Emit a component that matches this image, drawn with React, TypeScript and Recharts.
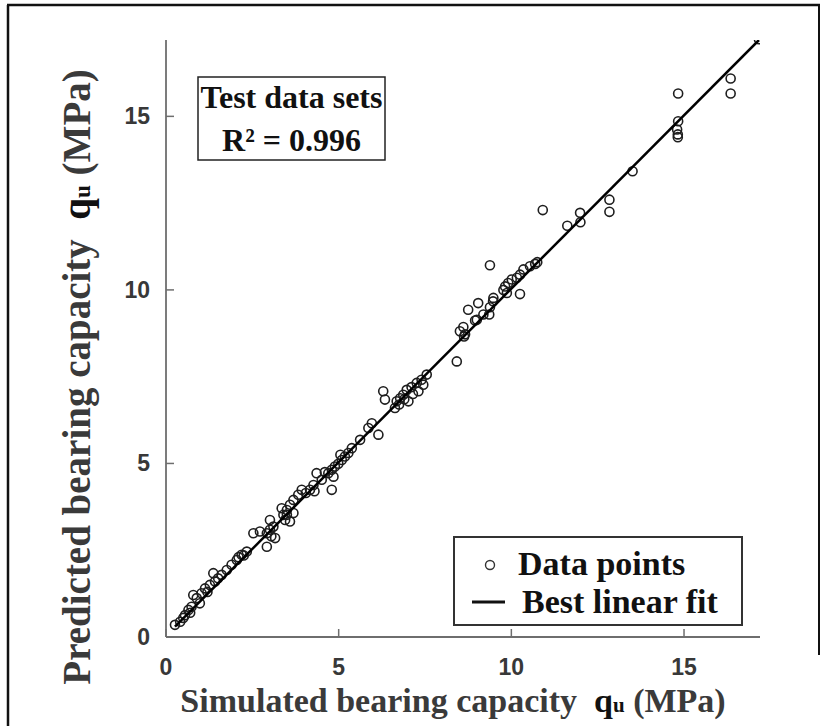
import React from 'react';
import { ScatterChart, Scatter, XAxis, YAxis, ZAxis, Legend } from 'recharts';

const xTicks = [0, 5, 10, 15];
const yTicks = [0, 5, 10, 15];
const axisDomain = [0, 17.2];

const simulated = [
  17.17, 16.35, 16.35, 14.83, 14.83, 14.8, 14.82, 14.82, 13.51, 12.84, 12.84, 11.99, 12.0, 11.62, 10.91,
  10.69, 10.75, 10.54, 10.35, 10.25, 10.16, 10.01, 9.91, 9.82, 9.77, 9.87, 10.25, 9.48, 9.38, 9.04,
  8.75, 9.38, 9.47, 9.36, 9.19, 9.0, 8.95, 8.61, 8.63, 8.51, 8.66, 8.42,
  7.55, 7.4, 7.45, 7.26, 7.11, 7.31, 6.97, 6.87, 7.02, 6.78, 6.68, 6.63, 6.75, 6.9, 7.15, 6.29, 6.34,
  6.15, 5.96, 5.86, 5.62, 5.38, 5.28, 5.18, 5.09, 4.99, 4.89, 4.8, 4.7, 4.85, 4.8, 4.36, 4.51, 4.6, 5.05,
  4.27, 4.17, 3.93, 3.83, 3.69, 3.59, 3.5, 3.4, 3.45, 3.69, 4.05, 4.3,
  3.35, 3.5, 3.59, 3.01, 3.11, 3.01, 2.72, 2.92, 2.53, 3.16, 2.92, 3.05, 2.34, 2.19, 2.05, 1.9, 1.76,
  1.61, 1.37, 1.51, 1.42, 1.27, 1.13, 1.03, 0.79, 0.89, 0.98, 0.74, 0.65, 0.55, 0.41, 0.26, 0.5, 0.7,
  1.2, 2.1, 2.25,
];
const predicted = [
  17.22, 16.09, 15.66, 15.66, 14.86, 14.62, 14.48, 14.4, 13.42, 12.6, 12.25, 12.22, 11.95, 11.85, 12.3,
  10.75, 10.8, 10.68, 10.59, 10.44, 10.35, 10.3, 10.2, 10.1, 10.0, 9.91, 9.88, 9.77, 10.71, 9.62,
  9.43, 9.5, 9.67, 9.29, 9.29, 9.14, 9.12, 8.93, 8.66, 8.81, 8.72, 7.94,
  7.56, 7.41, 7.27, 7.32, 7.2, 7.08, 7.12, 6.98, 6.79, 6.88, 6.79, 6.6, 6.7, 6.85, 7.0, 7.08, 6.84,
  5.83, 6.16, 6.02, 5.68, 5.44, 5.3, 5.2, 5.1, 4.99, 4.91, 4.82, 4.72, 4.62, 4.24, 4.72, 4.53, 4.75, 5.25,
  4.38, 4.24, 4.24, 4.1, 3.95, 3.81, 3.66, 3.52, 3.37, 3.57, 4.15, 4.2,
  3.71, 3.52, 3.33, 3.37, 3.18, 3.09, 3.04, 2.99, 2.99, 2.85, 2.6, 2.9, 2.46, 2.37, 2.22, 2.08, 1.93,
  1.79, 1.84, 1.69, 1.6, 1.5, 1.4, 1.26, 1.21, 1.12, 0.97, 0.87, 0.78, 0.63, 0.44, 0.35, 0.55, 0.7,
  1.3, 2.3, 2.35,
];

const fitX = [0.26, 17.17];
const fitY = [0.3, 17.2];

const points = simulated.map((x, i) => ({ x, y: predicted[i] }));
const fitLine = fitX.map((x, i) => ({ x, y: fitY[i] }));

const AXIS_COLOR = '#6e6e6e';
const TICK_TEXT = '#383838';
const SERIF = '"Liberation Serif", "Times New Roman", serif';
const SANS = '"Liberation Sans", Arial, sans-serif';

const BottomTick = (props: any) => {
  const { x, y, payload } = props;
  return (
    <g>
      <line x1={x} y1={y} x2={x} y2={y - 8} stroke={AXIS_COLOR} strokeWidth={1.5} />
      <text x={x} y={y + 38} textAnchor="middle" fontFamily={SANS} fontWeight="bold" fontSize={23} fill={TICK_TEXT}>
        {payload.value}
      </text>
    </g>
  );
};
const TopTick = (props: any) => {
  const { x, y } = props;
  return <line x1={x} y1={y} x2={x} y2={y + 8} stroke={AXIS_COLOR} strokeWidth={1.5} />;
};
const LeftTick = (props: any) => {
  const { x, y, payload } = props;
  return (
    <g>
      <line x1={x} y1={y} x2={x + 8} y2={y} stroke={AXIS_COLOR} strokeWidth={1.5} />
      <text x={x - 16} y={y + 8} textAnchor="end" fontFamily={SANS} fontWeight="bold" fontSize={23} fill={TICK_TEXT}>
        {payload.value}
      </text>
    </g>
  );
};
const RightTick = (props: any) => {
  const { x, y } = props;
  return <line x1={x} y1={y} x2={x - 8} y2={y} stroke={AXIS_COLOR} strokeWidth={1.5} />;
};

const EmptyShape = () => <g />;

const LegendBox = (props: any) => {
  const payload: any[] = props.payload || [];
  const dp = payload.find((p) => p.type === 'circle');
  const fl = payload.find((p) => p.type === 'line');
  const n0 = dp ? dp.value : 'Data points';
  const n1 = fl ? fl.value : 'Best linear fit';
  return (
    <svg width={290} height={90} style={{ display: 'block' }}>
      <rect x={1} y={1} width={288} height={88} fill="#fff" stroke="#333" strokeWidth={2} />
      <circle cx={37} cy={29} r={4.5} fill="none" stroke="#333" strokeWidth={1.4} />
      <text x={65} y={39} fontFamily={SERIF} fontWeight="bold" fontSize={34} fill="#111">{n0}</text>
      <line x1={19} y1={66} x2={52} y2={66} stroke="#111" strokeWidth={3} />
      <text x={69} y={77} fontFamily={SERIF} fontWeight="bold" fontSize={34} fill="#111">{n1}</text>
    </svg>
  );
};

export default function App() {
  return (
    <div style={{ position: 'absolute', left: 0, top: 0, width: 824, height: 726, background: '#fff' }}>
      <ScatterChart width={824} height={726} margin={{ top: 40, right: 64, bottom: 29, left: 106 }}>
        <XAxis xAxisId="b" type="number" dataKey="x" domain={axisDomain} ticks={xTicks} interval={0}
          orientation="bottom" height={60} tickLine={false} tickSize={0} tickMargin={0}
          tick={<BottomTick />} axisLine={{ stroke: AXIS_COLOR, strokeWidth: 1.8 }} allowDataOverflow />
        <XAxis xAxisId="t" type="number" dataKey="x" domain={axisDomain} ticks={xTicks} interval={0}
          orientation="top" height={0} tickLine={false} tickSize={0} tickMargin={0}
          tick={<TopTick />} axisLine={{ stroke: AXIS_COLOR, strokeWidth: 1.8 }} allowDataOverflow />
        <YAxis yAxisId="l" type="number" dataKey="y" domain={axisDomain} ticks={yTicks} interval={0}
          orientation="left" width={60} tickLine={false} tickSize={0} tickMargin={0}
          tick={<LeftTick />} axisLine={{ stroke: AXIS_COLOR, strokeWidth: 1.8 }} allowDataOverflow />
        <YAxis yAxisId="r" type="number" dataKey="y" domain={axisDomain} ticks={yTicks} interval={0}
          orientation="right" width={0} tickLine={false} tickSize={0} tickMargin={0}
          tick={<RightTick />} axisLine={{ stroke: AXIS_COLOR, strokeWidth: 1.8 }} allowDataOverflow />
        <ZAxis range={[100, 100]} />
        <Scatter name="Data points" data={points} xAxisId="b" yAxisId="l" fill="none" stroke="#1e1e1e"
          strokeWidth={1.6} legendType="circle" isAnimationActive={false} />
        <Scatter name="Best linear fit" data={fitLine} xAxisId="t" yAxisId="r"
          line={{ stroke: '#000', strokeWidth: 2.5 }} shape={<EmptyShape />} legendType="line"
          isAnimationActive={false} />
        <Legend content={<LegendBox />} layout="horizontal" verticalAlign="middle" align="center"
          wrapperStyle={{ left: 453, top: 536, width: 290, height: 90 }} />
      </ScatterChart>
      <svg width={824} height={726} style={{ position: 'absolute', left: 0, top: 0, pointerEvents: 'none' }}>
        <line x1={8} y1={5} x2={8} y2={726} stroke="#111" strokeWidth={2.5} />
        <line x1={7} y1={5} x2={820} y2={5} stroke="#111" strokeWidth={2.5} />
        <line x1={819} y1={4} x2={819} y2={655} stroke="#111" strokeWidth={2} />
        <rect x={198} y={77} width={187} height={83} fill="#fff" stroke="#222" strokeWidth={1.5} />
        <text x={291.5} y={108} textAnchor="middle" fontFamily={SERIF} fontWeight="bold" fontSize={32} fill="#111">Test data sets</text>
        <text x={291.5} y={151} textAnchor="middle" fontFamily={SERIF} fontWeight="bold" fontSize={32} fill="#111">R² = 0.996</text>
        <text x={453} y={712} textAnchor="middle" fontFamily={SERIF} fontWeight="bold" fontSize={34} fill="#3a3a3a">
          Simulated bearing capacity{'\u00a0\u00a0'}
          <tspan fill="#111">q</tspan>
          <tspan fill="#111" fontSize={21}>u</tspan>
          {' (MPa)'}
        </text>
        <text x={90} y={377} transform="rotate(-90 90 377)" textAnchor="middle" fontFamily={SERIF} fontWeight="bold" fontSize={39} fill="#3a3a3a">
          Predicted bearing capacity{'\u00a0\u00a0'}
          <tspan fill="#111">q</tspan>
          <tspan fill="#111" fontSize={23}>u</tspan>
          {' (MPa)'}
        </text>
      </svg>
    </div>
  );
}
